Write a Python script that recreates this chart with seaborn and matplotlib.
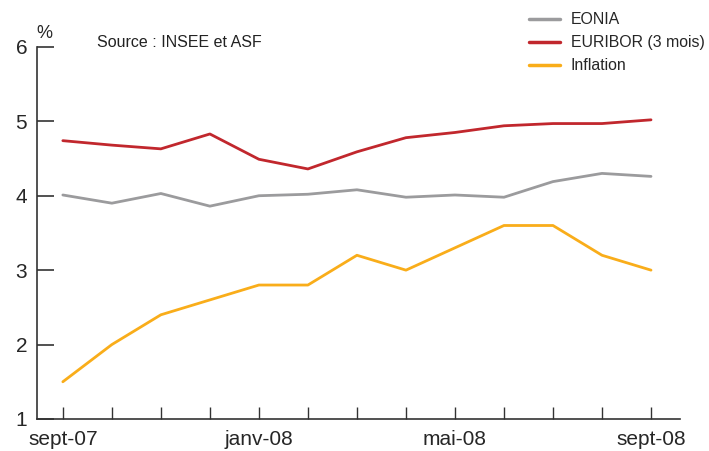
import matplotlib
matplotlib.use("Agg")
import matplotlib.pyplot as plt
import seaborn as sns
import pandas as pd
import numpy as np

months = ["sept-07", "oct-07", "nov-07", "déc-07", "janv-08", "févr-08", "mars-08",
          "avr-08", "mai-08", "juin-08", "juil-08", "août-08", "sept-08"]
eonia = [4.01, 3.90, 4.03, 3.86, 4.00, 4.02, 4.08, 3.98, 4.01, 3.98, 4.19, 4.30, 4.26]
euribor = [4.74, 4.68, 4.63, 4.83, 4.49, 4.36, 4.59, 4.78, 4.85, 4.94, 4.97, 4.97, 5.02]
inflation = [1.5, 2.0, 2.4, 2.6, 2.8, 2.8, 3.2, 3.0, 3.3, 3.6, 3.6, 3.2, 3.0]
series_names = ["EONIA", "EURIBOR (3 mois)", "Inflation"]
tick_labels = ["sept-07", "janv-08", "mai-08", "sept-08"]
yticks = [1, 2, 3, 4, 5, 6]

colors = ["#9b9b9d", "#c1272d", "#f9ad1a"]

sns.set_theme(style="white")
plt.rcParams["font.family"] = ["Liberation Sans", "DejaVu Sans"]

rows = []
for name, vals in zip(series_names, [eonia, euribor, inflation]):
    for i, v in enumerate(vals):
        rows.append({"idx": i, "month": months[i], "value": v, "serie": name})
df = pd.DataFrame(rows)

fig = plt.figure(figsize=(7.09, 4.51), dpi=100)
ax = fig.add_axes([0.052, 0.071, 0.907, 0.825])

sns.lineplot(data=df, x="idx", y="value", hue="serie", hue_order=series_names,
             palette=dict(zip(series_names, colors)), linewidth=2.0, ax=ax,
             legend=True)

ax.set_xlim(-0.53, 12.59)
ax.set_ylim(1, 6)
ax.set_yticks(yticks)
ax.set_yticklabels([str(t) for t in yticks], fontsize=15)
ax.set_xticks(range(len(months)))
ax.set_xticklabels([m if m in tick_labels else "" for m in months], fontsize=15)
ax.set_xlabel("")
ax.set_ylabel("")

for s in ["top", "right"]:
    ax.spines[s].set_visible(False)
for s in ["left", "bottom"]:
    ax.spines[s].set_color("#333333")
    ax.spines[s].set_linewidth(1.2)

ax.tick_params(axis="y", direction="in", length=12, width=1.2, color="#333333", pad=7, left=True)
ax.tick_params(axis="x", direction="in", length=9, width=1.0, color="#333333", pad=8, bottom=True)

ax.text(0.0, 1.037, "%", transform=ax.transAxes, fontsize=13, ha="left", va="center")
ax.text(0.093, 1.013, "Source : INSEE et ASF", transform=ax.transAxes, fontsize=11.5,
        ha="left", va="center", color="#222222")

leg = ax.legend(loc="upper left", bbox_to_anchor=(0.755, 1.11), frameon=False,
                fontsize=11.4, handlelength=2.0, handletextpad=0.65, labelspacing=0.5,
                borderaxespad=0)
for h in leg.get_lines():
    h.set_linewidth(2.5)

fig.savefig("out.png", dpi=100)
